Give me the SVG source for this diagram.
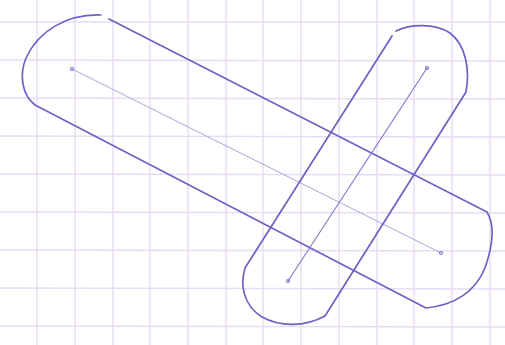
<svg xmlns="http://www.w3.org/2000/svg" width="505" height="345" viewBox="0 0 505 345">
<style>
.grid line{stroke:#e8dcf5;stroke-width:1.5}
.pen{fill:none;stroke:#6f62c4;stroke-width:1.7;stroke-linecap:round;stroke-linejoin:round}
.axis{fill:none;stroke:#8a7ad0;stroke-width:1.2;stroke-linecap:round}
.axis.light{stroke:#b0a2e0;stroke-width:1}
.dot{fill:none;stroke:#8a78c8;stroke-width:1.2}
</style>
<rect width="505" height="345" fill="#ffffff"/>
<g class="grid">
<line x1="37" y1="0" x2="37" y2="345"/>
<line x1="75" y1="0" x2="75" y2="345"/>
<line x1="113" y1="0" x2="113" y2="345"/>
<line x1="150" y1="0" x2="150" y2="345"/>
<line x1="188" y1="0" x2="188" y2="345"/>
<line x1="226" y1="0" x2="226" y2="345"/>
<line x1="263" y1="0" x2="263" y2="345"/>
<line x1="301" y1="0" x2="301" y2="345"/>
<line x1="339" y1="0" x2="339" y2="345"/>
<line x1="377" y1="0" x2="377" y2="345"/>
<line x1="414" y1="0" x2="414" y2="345"/>
<line x1="452" y1="0" x2="452" y2="345"/>
<line x1="490" y1="0" x2="490" y2="345"/>
<line x1="0" y1="22" x2="505" y2="22"/>
<line x1="0" y1="60" x2="505" y2="61"/>
<line x1="0" y1="98" x2="505" y2="99"/>
<line x1="0" y1="136" x2="505" y2="137"/>
<line x1="0" y1="174" x2="505" y2="175"/>
<line x1="0" y1="212" x2="505" y2="213"/>
<line x1="0" y1="250" x2="505" y2="251"/>
<line x1="0" y1="288" x2="505" y2="289"/>
<line x1="0" y1="326" x2="505" y2="327"/>
</g>
<g id="capsule-long">
<path class="pen" d="M109,19 L487,212 C495,225 493,245 485,268 C475,292 455,305 426,308 L35,105 C22,95 19,75 26,58 C38,32 65,14 101,15"/>
<line class="axis light" x1="72" y1="69" x2="441" y2="253"/>
<circle class="dot" cx="72" cy="69" r="1.5"/>
<circle class="dot" cx="441" cy="253" r="1.5"/>
</g>
<g id="capsule-steep">
<path class="pen" d="M392,36 L245,268 C240,285 243,305 262,317 C280,327 305,327 325,316 L466,92 C470,70 466,45 450,33 C435,23 410,24 396,31"/>
<line class="axis" x1="427" y1="68" x2="288" y2="281"/>
<circle class="dot" cx="427" cy="68" r="1.5"/>
<circle class="dot" cx="288" cy="281" r="1.5"/>
</g>
<g id="connectors"/>
</svg>
